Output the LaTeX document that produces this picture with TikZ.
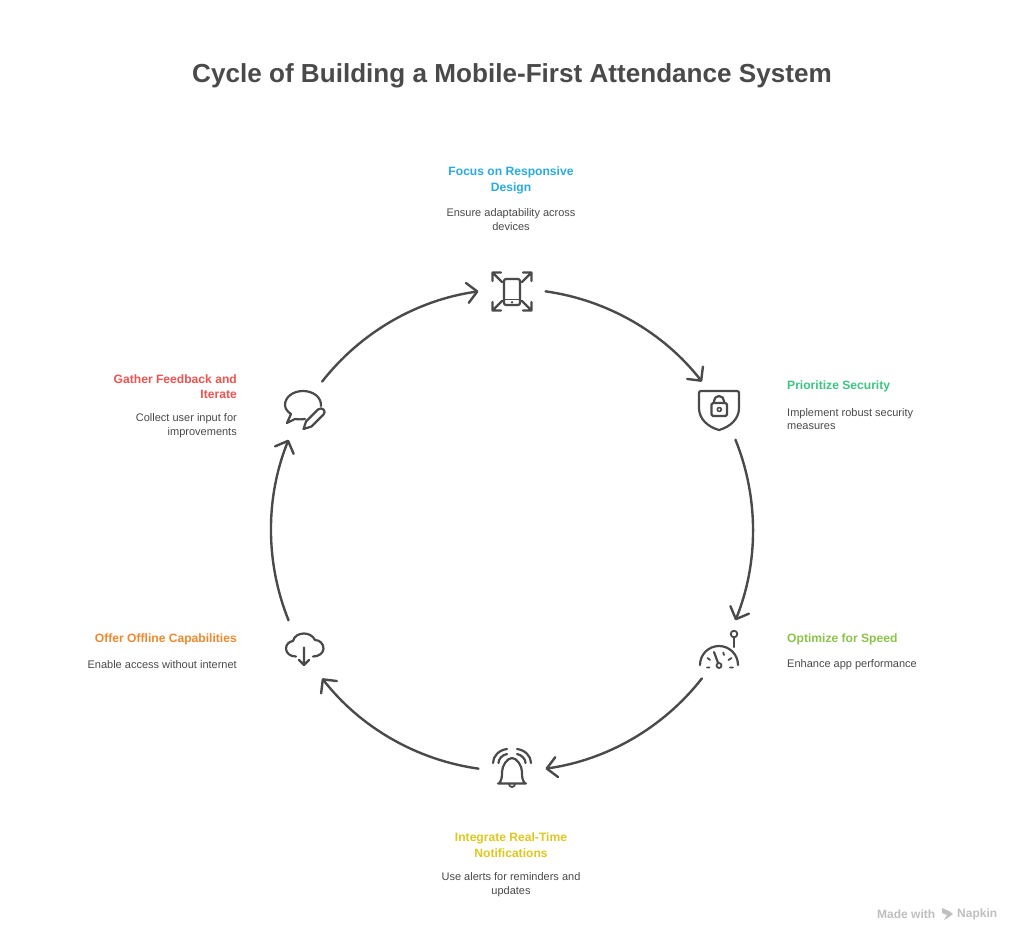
\documentclass[tikz,border=0pt]{standalone}
\usepackage{fontspec}
\setmainfont{Liberation Sans}
\usetikzlibrary{arrows.meta,calc}
\definecolor{ink}{HTML}{4A4A4A}
\definecolor{cblue}{HTML}{29ABE2}
\definecolor{cgreen}{HTML}{3CC583}
\definecolor{clime}{HTML}{8BC34A}
\definecolor{cyellow}{HTML}{DEC81F}
\definecolor{corange}{HTML}{EE8A2E}
\definecolor{cred}{HTML}{EF5350}
\tikzset{
  x=1pt,y=-1pt,
  flow/.style={draw=ink,line width=2.4pt,line cap=round,-{Straight Barb[length=10pt,width=20pt,line width=2.4pt,round]},bend left=22,looseness=.884},
  icon/.style={draw=ink,line width=2.2pt,line cap=round,line join=round},
  head/.style={font=\fontsize{12.1}{15.5}\selectfont\bfseries,inner sep=0pt,align=center},
  desc/.style={font=\fontsize{11}{13.5}\selectfont,text=ink,inner sep=0pt,align=center},
  mark text/.style={font=\fontsize{12}{14}\selectfont\bfseries,text=black!25,inner sep=0pt,anchor=west}
}
\begin{document}
\begin{tikzpicture}
\useasboundingbox (0,0) rectangle (1024,945);
\fill[white] (0,0) rectangle (1024,945);
\node[font=\fontsize{26.1}{32}\selectfont\bfseries,text=ink,inner sep=0pt] (title) at (512,75.5) {Cycle of Building a Mobile-First Attendance System};

\coordinate (c) at (512,530);
% arc ends
\foreach \n/\a in {a1/82,b1/38,a2/22,b2/-22,a3/-38,b3/-82,a4/-98,b4/-142,a5/-158,b5/158,a6/142,b6/98}
  \coordinate (\n) at ($(c)+({241*cos(\a)},{-241*sin(\a)})$);
\draw[flow] (a1) to (b1);
\draw[flow] (a2) to (b2);
\draw[flow] (a3) to (b3);
\draw[flow] (a4) to (b4);
\draw[flow] (a5) to (b5);
\draw[flow] (a6) to (b6);

% phone icon
\draw[icon,rounded corners=2pt] (504,279) rectangle (520,305);
\draw[icon,line width=1.8pt] (504,299.5) -- (520,299.5);
\fill[ink] (512,302.3) circle (1.3);
\draw[icon] (502,282) -- (492.5,272.5) (492.5,281) -- (492.5,272.5) -- (501,272.5);
\draw[icon] (522,282) -- (531.5,272.5) (531.5,281) -- (531.5,272.5) -- (523,272.5);
\draw[icon] (502,301) -- (492.5,310.5) (492.5,302) -- (492.5,310.5) -- (501,310.5);
\draw[icon] (522,301) -- (531.5,310.5) (531.5,302) -- (531.5,310.5) -- (523,310.5);

% shield icon
\draw[icon] (701,391) -- (737,391) .. controls (738.5,391) and (739,392) .. (739,393) -- (739,408) .. controls (739,419) and (730,427) .. (719,430) .. controls (708,427) and (699,419) .. (699,408) -- (699,393) .. controls (699,392) and (699.5,391) .. (701,391) -- cycle;
\draw[icon,rounded corners=1.5pt] (711.5,403) rectangle (727,416);
\draw[icon] (714,403) -- (714,401) arc[start angle=180,end angle=360,radius=5] -- (724,403);
\draw[icon,line width=1.6pt] (719.3,409.5) circle (2);

% gauge icon
\draw[icon] (700,665) arc[start angle=180,end angle=360,radius=19];
\draw[icon,line width=1.8pt] (734,634) circle (3.3);
\draw[icon] (734,637.5) -- (734,647);
\draw[icon,line width=1.8pt] (719,665.5) circle (2.5);
\draw[icon] (718,662.8) -- (714,652);
\draw[icon,line width=1.8pt] (707,667.5) -- (709.5,667.5) (707.5,658) -- (710,660) (723.2,652.5) -- (724,655) (728.5,660) -- (731.5,658) (730,667.5) -- (733,667.5);

% bell icon
\draw[icon] (498,783.5) -- (526,783.5) (499,783.5) .. controls (502,780) and (502,776) .. (502,772) .. controls (502,766) and (507,758) .. (512,758) .. controls (517,758) and (522,766) .. (522,772) .. controls (522,776) and (522,780) .. (525,783.5);
\draw[icon,line width=1.8pt] (509,784) arc[start angle=180,end angle=0,radius=3];
\draw[icon] (493,763) .. controls (493,756) and (499,750) .. (507,749) (498.5,763) .. controls (498.5,759) and (502,755) .. (507,754);
\draw[icon] (531,763) .. controls (531,756) and (525,750) .. (517,749) (525.5,763) .. controls (525.5,759) and (522,755) .. (517,754);

% cloud icon
\draw[icon] (296,656.5) .. controls (290,656.5) and (286,653) .. (286,648.5) .. controls (286,644.5) and (289,641.5) .. (293,641) .. controls (294,636) and (299,633.5) .. (304,633.5) .. controls (309,633.5) and (313,636) .. (315,640) .. controls (320,640) and (323.5,644) .. (323.5,648.5) .. controls (323.5,653) and (319,656.5) .. (313,656.5);
\draw[icon] (304,647.5) -- (304,665) (299,660) -- (304,665) -- (309,660);

% chat icon
\draw[icon] (321,406) .. controls (321.5,397) and (313,391) .. (303,391) .. controls (293,391) and (285,397) .. (285,405) .. controls (285,409) and (288,412) .. (291,414) -- (287,423) -- (295,419) .. controls (298,419.5) and (301,419.5) .. (305,419);
\draw[icon] (303.5,429) -- (306,421.5) -- (318,409.5) .. controls (320,408) and (322,408) .. (323.5,409.5) .. controls (325,411) and (325,413) .. (323.5,414.5) -- (311.5,426.5) -- cycle;

% labels
\node[head,text=cblue] (h1) at (511,180.5) {Focus on Responsive\\Design};
\node[desc] (d1) at (511,219.5) {Ensure adaptability across\\devices};
\node[head,text=cgreen,anchor=west] (h2) at (787,386.5) {Prioritize Security};
\node[desc,align=left,anchor=west] (d2) at (787,419) {Implement robust security\\measures};
\node[head,text=clime,anchor=west] (h3) at (787,639.5) {Optimize for Speed};
\node[desc,align=left,anchor=west] (d3) at (787,665) {Enhance app performance};
\node[head,text=cyellow] (h4) at (511,845) {Integrate Real-Time\\Notifications};
\node[desc] (d4) at (511,884.5) {Use alerts for reminders and\\updates};
\node[head,text=corange,anchor=east] (h5) at (237,639.5) {Offer Offline Capabilities};
\node[desc,align=right,anchor=east] (d5) at (237,665) {Enable access without internet};
\node[head,text=cred,align=right,anchor=east] (h6) at (237,386.5) {Gather Feedback and\\Iterate};
\node[desc,align=right,anchor=east] (d6) at (237,425.5) {Collect user input for\\improvements};

% watermark
\node[mark text] (m1) at (877,914.5) {Made with};
\fill[black!25] (942,908) -- (949,911) -- (953,914) -- (949,917) -- (944,920) -- (947,915) -- (942,913) -- cycle;
\node[mark text] (m2) at (957,914.5) {Napkin};
\end{tikzpicture}
\end{document}
